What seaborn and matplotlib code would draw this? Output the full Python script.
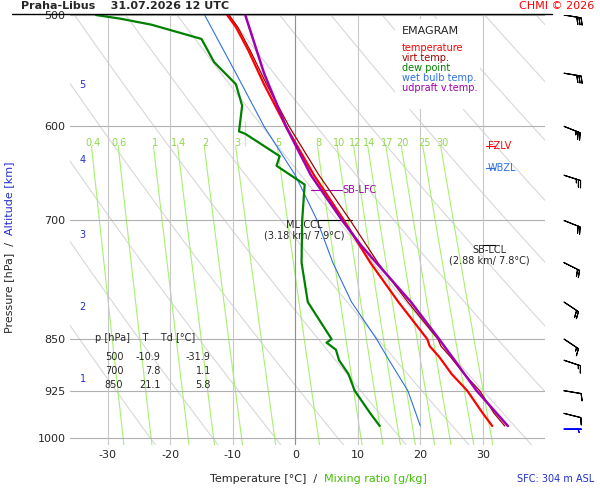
import numpy as np
import matplotlib
matplotlib.use("Agg")
import matplotlib.pyplot as plt
import seaborn as sns
import pandas as pd

sns.set_theme(style="white")
plt.rcParams['font.family'] = ['DejaVu Sans']

# data
p_T = [980, 960, 925, 900, 875, 860, 850, 800, 750, 700, 650, 600, 560, 530, 510, 500]
T = [31.5, 30.0, 27.5, 25.0, 23.0, 21.5, 21.1, 16.5, 12.0, 7.8, 3.0, -1.5, -5.0, -7.5, -9.5, -10.9]
Tv = [33.5, 31.8, 29.5, 27.0, 24.8, 23.3, 22.8, 18.0, 13.2, 8.8, 3.8, -1.0, -4.6, -7.2, -9.2, -10.6]
p_Td = [980, 960, 925, 900, 880, 865, 855, 850, 800, 750, 700, 660, 640, 630, 620, 605, 595, 580, 560, 540, 520, 508, 503, 500]
Td = [13.5, 12.0, 9.5, 8.5, 7.0, 6.5, 5.0, 5.8, 2.0, 1.0, 1.1, 1.5, -3.0, -2.5, -8.0, -9.0, -8.0, -8.5, -9.5, -13.0, -15.0, -23.0, -28.0, -31.9]
p_Tw = [980, 925, 880, 850, 800, 750, 700, 650, 600, 550, 500]
Tw = [20.0, 18.0, 15.0, 13.0, 9.0, 6.0, 3.5, 0.0, -5.0, -9.5, -14.5]
p_par = [980, 925, 850, 800, 729, 700, 650, 600, 550, 500]
Tpar = [34.0, 29.0, 23.0, 18.5, 10.5, 7.5, 2.5, -1.5, -5.0, -8.0]
mix_vals = [0.4, 0.6, 1, 1.4, 2, 3, 5, 8, 10, 12, 14, 17, 20, 25, 30]
mix_lbl = ['0.4', '0.6', '1', '1.4', '2', '3', '5', '8', '10', '12', '14', '17', '20', '25', '30']
alt_km = [1, 2, 3, 4, 5]
alt_p = [907, 807, 717, 634, 561]
p_ticks = [500, 600, 700, 850, 925, 1000]
t_ticks = [-30, -20, -10, 0, 10, 20, 30]
wind_p = [985, 960, 925, 880, 850, 800, 750, 700, 650, 600, 550, 500]
wind_u = [-5, -8, -12, -15, -12, -15, -20, -20, -25, -25, -30, -30]
wind_v = [0, 2, 2, 5, 8, 10, 10, 8, 8, 10, 5, 5]

fig = plt.figure(figsize=(6, 5), dpi=100)
ax = fig.add_axes([0.117, 0.11, 0.792, 0.86])
ax.set_yscale('log')
ax.set_xlim(-36, 40)
ax.set_ylim(1011, 500)

pp = np.linspace(500, 1011, 100)
for th in range(250, 420, 10):
    ax.plot(th * (pp / 1000) ** 0.286 - 273.15, pp, color='#d8d8d8', lw=0.8, zorder=1)
pm = np.linspace(620, 1011, 60)
for w, lbl in zip(mix_vals, mix_lbl):
    e = w * pm / (622 + w)
    lx = np.log(e / 6.112)
    td = 243.5 * lx / (17.67 - lx)
    ax.plot(td, pm, color='#a8f070', lw=0.8, zorder=1)
    e0 = w * 630 / (622 + w); l0 = np.log(e0 / 6.112)
    ax.text(243.5 * l0 / (17.67 - l0), 622, lbl, color='#8ed84a',
            fontsize=7, ha='center', va='bottom')
for p in p_ticks:
    ax.axhline(p, color='#b0b0b0', lw=0.8, zorder=1)
for t in t_ticks:
    ax.axvline(t, color='#c8c8c8', lw=0.8, zorder=1)
ax.axvline(0, color='#909090', lw=0.8, zorder=1)

sns.lineplot(x=Tw, y=p_Tw, sort=False, ax=ax, color='#3070e0', lw=0.8, zorder=3)
sns.lineplot(x=Tv, y=p_T, sort=False, ax=ax, color='#a00000', lw=0.9, zorder=3)
sns.lineplot(x=T, y=p_T, sort=False, ax=ax, color='#ff0000', lw=1.6, zorder=4)
sns.lineplot(x=Td, y=p_Td, sort=False, ax=ax, color='#008000', lw=1.6, zorder=4)
sns.lineplot(x=Tpar, y=p_par, sort=False, ax=ax, color='#a000b0', lw=1.8, zorder=5)

ax.set_yticks(p_ticks)
ax.set_yticklabels([str(p) for p in p_ticks], fontsize=8)
ax.minorticks_off()
ax.set_xticks(t_ticks)
ax.set_xticklabels([str(t) for t in t_ticks], fontsize=8)
ax.tick_params(length=0)
for s in ax.spines.values():
    s.set_visible(False)
for a, p in zip(alt_km, alt_p):
    ax.text(-34.5, p, str(a), color='#2030d0', fontsize=7, va='center')

ax.plot([30.5, 32], [620, 620], color='red', lw=0.8)
ax.text(30.8, 620, 'FZLV', color='red', fontsize=7, va='center')
ax.plot([30.5, 32], [642, 642], color='#3070e0', lw=0.8)
ax.text(30.8, 642, 'WBZL', color='#3070e0', fontsize=7, va='center')
ax.plot([2.5, 7.5], [666, 666], color='#a000b0', lw=0.8)
ax.text(7.5, 666, 'SB-LFC', color='#a000b0', fontsize=7, va='center')
ax.plot([3, 9], [700, 700], color='black', lw=0.8)
ax.text(1.5, 700, 'ML-CCL\n(3.18 km/ 7.9°C)', fontsize=7, ha='center', va='top', linespacing=1.0)
ax.plot([30, 32], [729, 729], color='black', lw=0.8)
ax.text(31, 729, 'SB-LCL\n(2.88 km/ 7.8°C)', fontsize=7, ha='center', va='top', linespacing=1.0)

ax.text(-32, 855, 'p [hPa]    T    Td [°C]', fontsize=7, va='bottom')
rows = [('500', '-10.9', '-31.9'), ('700', '7.8', '1.1'), ('850', '21.1', '5.8')]
for i, (a, b, c) in enumerate(rows):
    y = 875 * (1.023 ** i)
    ax.text(-27.5, y, a, fontsize=7, ha='right', va='center')
    ax.text(-21.5, y, b, fontsize=7, ha='right', va='center')
    ax.text(-13.5, y, c, fontsize=7, ha='right', va='center')

lx0 = 17
ax.add_patch(plt.Rectangle((16, 503), 13.5, 80, facecolor='white', edgecolor='none', zorder=2))
ax.text(lx0, 513, 'EMAGRAM', fontsize=8, va='center', zorder=6)
for i, (t, c) in enumerate([('temperature', 'red'), ('virt.temp.', '#a00000'), ('dew point', '#008000'),
                            ('wet bulb temp.', '#3070e0'), ('udpraft v.temp.', '#a000b0')]):
    ax.text(lx0, 528 * (1.0165 ** i), t, fontsize=7, color=c, va='center', zorder=6)

ax.set_ylabel('')
fig.text(0.015, 0.53, 'Pressure [hPa]  /  ', rotation=90, fontsize=8, ha='center', va='top')
fig.text(0.015, 0.53, 'Altitude [km]', rotation=90, fontsize=8, ha='center', va='bottom', color='#2030d0')
fig.text(0.54, 0.035, 'Temperature [°C]  /  ', fontsize=8, ha='right')
fig.text(0.54, 0.035, 'Mixing ratio [g/kg]', fontsize=8, ha='left', color='#40c000')
fig.text(0.99, 0.035, 'SFC: 304 m ASL', fontsize=7, ha='right', color='#2030d0')
fig.text(0.035, 0.988, 'Praha-Libus    31.07.2026 12 UTC', fontsize=8, fontweight='bold', va='center')
fig.text(0.99, 0.988, 'CHMI © 2026', fontsize=8, color='red', ha='right', va='center')
fig.add_artist(plt.Line2D([0.02, 0.92], [0.972, 0.972], color='black', lw=1))

axw = fig.add_axes([0.885, 0.11, 0.11, 0.86], sharey=ax)
axw.barbs([0.5] * len(wind_p), wind_p, wind_u, wind_v, length=5, lw=0.8,
          color=['blue'] + ['black'] * (len(wind_p) - 1))
axw.set_xlim(0, 1)
axw.axis('off')

fig.savefig('out.png', dpi=100)
